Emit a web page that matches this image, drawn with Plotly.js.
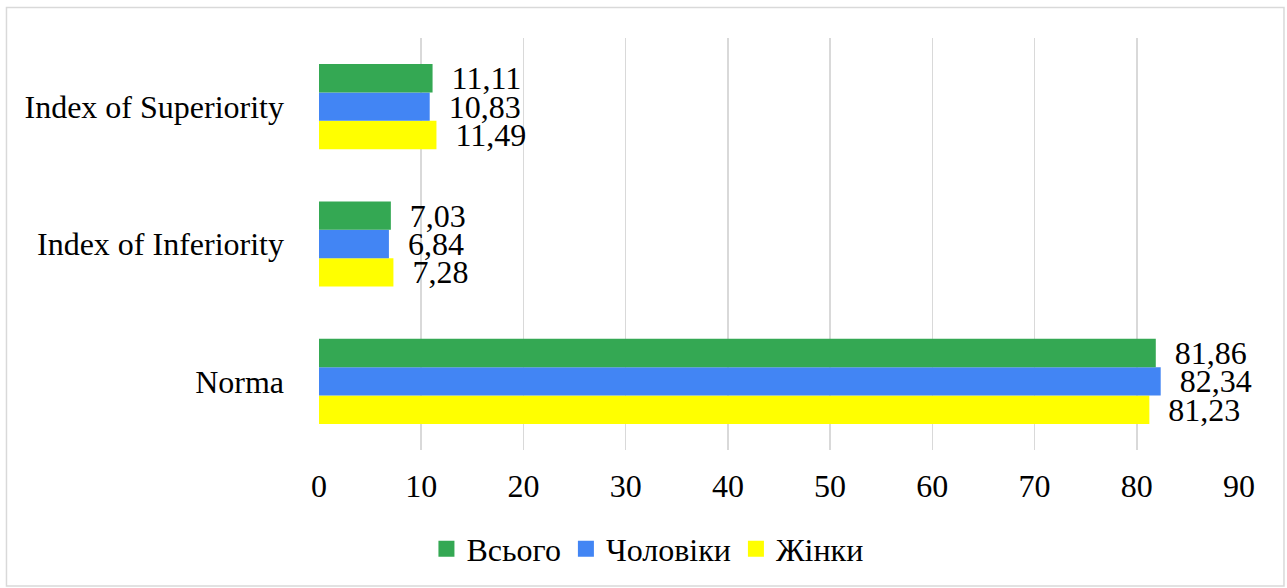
<!DOCTYPE html>
<html>
<head>
<meta charset="utf-8">
<script src="https://cdn.plot.ly/plotly-3.0.1.min.js"></script>
<style>
  html, body { margin: 0; padding: 0; background: #fff; }
  #myPlot { width: 1287px; height: 588px; }
</style>
</head>
<body>
<div id="myPlot"></div>
<script>
/**
 * Data
 */
const categories = ["Norma", "Index of Inferiority", "Index of Superiority"];
const vsogo = [81.86, 7.03, 11.11];
const choloviky = [82.34, 6.84, 10.83];
const zhinky = [81.23, 7.28, 11.49];

const seriesNames = ["Всього", "Чоловіки", "Жінки"];
const colors = ["#34A853", "#4285F4", "#FFFF00"];

const FONT = "'Liberation Serif', 'Times New Roman', serif";
const FS = 32;

const fmt = v => "\u00a0\u00a0" + v.toFixed(2).replace(".", ",");

function barTrace(name, values, color) {
  return {
    type: "bar",
    orientation: "h",
    name: name,
    y: categories,
    x: values,
    marker: { color: color },
    text: values.map(fmt),
    textposition: "outside",
    constraintext: "none",
    cliponaxis: false,
    textfont: { family: FONT, size: FS, color: "#000" },
    showlegend: false,
    hoverinfo: "x+name"
  };
}

// legend swatches: square markers so they can be as big as in the original
function legendTrace(name, color) {
  return {
    type: "scatter",
    mode: "markers",
    name: name,
    x: [null],
    y: [null],
    marker: { symbol: "square", size: 16, color: color },
    hoverinfo: "skip"
  };
}

// plotly puts the first trace at the bottom of a group, so yellow goes first
const data = [
  barTrace(seriesNames[2], zhinky, colors[2]),
  barTrace(seriesNames[1], choloviky, colors[1]),
  barTrace(seriesNames[0], vsogo, colors[0]),
  legendTrace(seriesNames[0], colors[0]),
  legendTrace(seriesNames[1], colors[1]),
  legendTrace(seriesNames[2], colors[2])
];

/**
 * Layout
 */
const layout = {
  width: 1287,
  height: 588,
  margin: { l: 319, r: 48, t: 38, b: 133 },
  paper_bgcolor: "#fff",
  plot_bgcolor: "#fff",
  font: { family: FONT, size: FS, color: "#000" },
  barmode: "group",
  bargap: 0.38,
  bargroupgap: 0,
  showlegend: true,
  legend: {
    orientation: "h",
    x: 0.357,
    xanchor: "center",
    y: -0.24,
    yanchor: "middle",
    font: { family: FONT, size: FS, color: "#000" },
    itemwidth: 30
  },
  xaxis: {
    range: [0, 90],
    dtick: 10,
    showgrid: true,
    gridcolor: "#d9d9d9",
    gridwidth: 1.5,
    zeroline: false,
    showline: false,
    ticks: "",
    ticklabelstandoff: 14,
    tickfont: { family: FONT, size: FS, color: "#000" }
  },
  yaxis: {
    type: "category",
    range: [-0.5, 2.5],
    showgrid: false,
    zeroline: false,
    showline: false,
    ticks: "",
    ticklabelstandoff: 34,
    tickfont: { family: FONT, size: FS, color: "#000" }
  },
  shapes: [
    {
      type: "rect",
      xref: "paper", yref: "paper",
      x0: -0.3397, x1: 1.0489,
      y0: -0.33, y1: 1.074,
      line: { color: "#d9d9d9", width: 1.5 },
      fillcolor: "rgba(0,0,0,0)"
    }
  ]
};

const myPlot = document.getElementById("myPlot");
Plotly.newPlot(myPlot, data, layout, { displayModeBar: false, staticPlot: true });
</script>
</body>
</html>
